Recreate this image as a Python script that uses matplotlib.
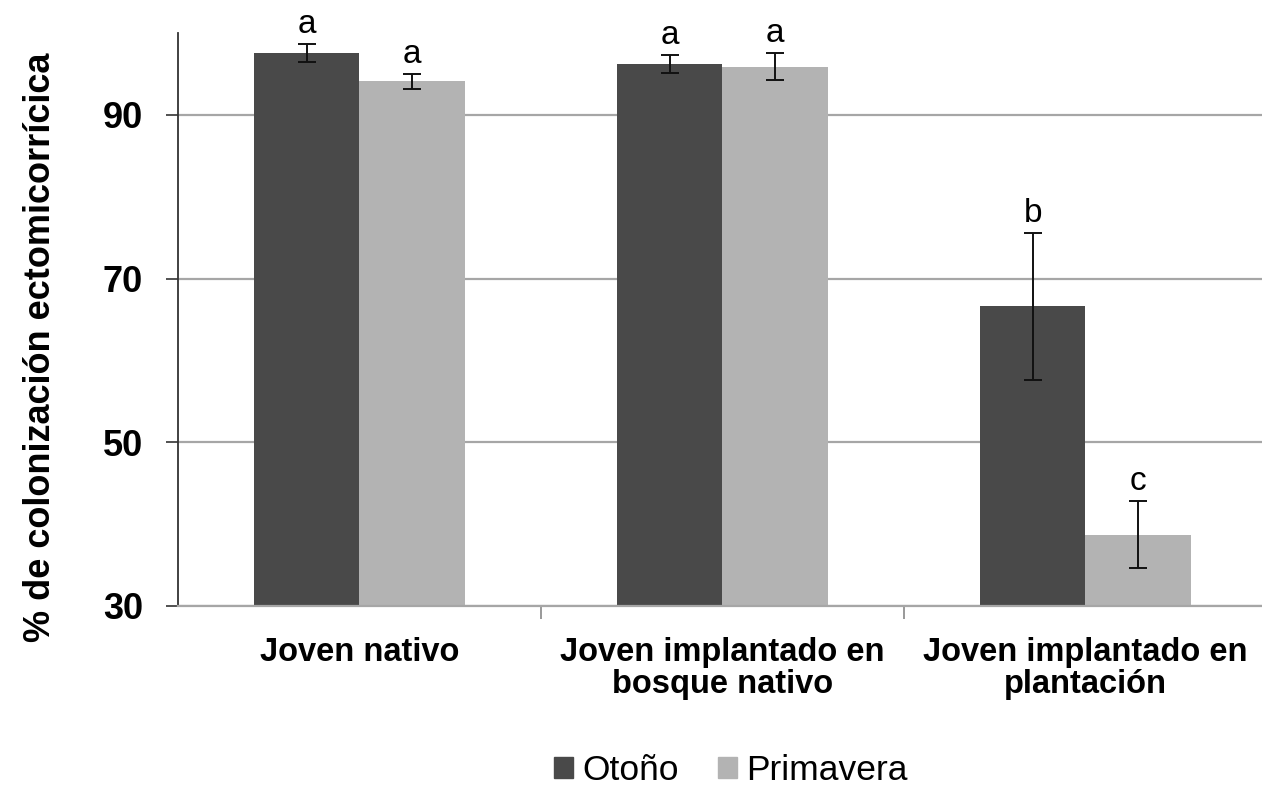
import numpy as np
import matplotlib
matplotlib.use('Agg')
import matplotlib.pyplot as plt
from matplotlib.patches import Patch

plt.rcParams['font.family'] = ['Liberation Sans', 'DejaVu Sans']

# datos
grupos = ['Joven nativo', 'Joven implantado en\nbosque nativo',
          'Joven implantado en\nplantación']
otono = [97.6, 96.2, 66.6]
otono_err = [1.1, 1.1, 9.0]
primavera = [94.1, 95.9, 38.7]
primavera_err = [0.9, 1.6, 4.1]
letras_otono = ['a', 'a', 'b']
letras_primavera = ['a', 'a', 'c']
y_ticks = [30, 50, 70, 90]

col_oto = '#494949'
col_pri = '#b3b3b3'
grid_col = '#a6a6a6'

fig = plt.figure(figsize=(12.62, 7.94), dpi=100)
ax = fig.add_axes([0.141, 0.2368, 0.8629, 0.7216])

x = np.arange(len(grupos))
w = 0.29

ax.bar(x - w/2, otono, w, color=col_oto, zorder=2)
ax.bar(x + w/2, primavera, w, color=col_pri, zorder=2)
ax.errorbar(x - w/2, otono, yerr=otono_err, fmt='none', ecolor='#111111',
            elinewidth=1.4, capsize=6.5, capthick=1.4, zorder=3)
ax.errorbar(x + w/2, primavera, yerr=primavera_err, fmt='none', ecolor='#111111',
            elinewidth=1.4, capsize=6.5, capthick=1.4, zorder=3)

# letras de significancia
for i in range(len(grupos)):
    ax.annotate(letras_otono[i], (x[i] - w/2, otono[i] + otono_err[i]),
                xytext=(0, 3), textcoords='offset points',
                ha='center', va='bottom', fontsize=24)
    ax.annotate(letras_primavera[i], (x[i] + w/2, primavera[i] + primavera_err[i]),
                xytext=(0, 3), textcoords='offset points',
                ha='center', va='bottom', fontsize=24)

ax.set_ylim(30, 100)
ax.set_xlim(-0.5, 2.5)
ax.set_yticks(y_ticks)
ax.set_yticklabels([str(v) for v in y_ticks], fontsize=26, fontweight='bold')
ax.tick_params(axis='y', length=9, width=1.2, color='#333333', pad=16)
ax.yaxis.grid(True, color=grid_col, linewidth=1.6, zorder=0)
ax.set_axisbelow(True)

ax.set_xticks(x)
ax.set_xticklabels(grupos, fontsize=23.5, fontweight='bold', linespacing=1.05)
ax.tick_params(axis='x', length=0, pad=22)
ax.set_xticks([0.5, 1.5], minor=True)
ax.tick_params(axis='x', which='minor', length=9, width=1.2, color='#888888')

for s in ['top', 'right']:
    ax.spines[s].set_visible(False)
ax.spines['left'].set_color('#333333')
ax.spines['left'].set_linewidth(1.3)
ax.spines['bottom'].set_color(grid_col)
ax.spines['bottom'].set_linewidth(1.6)

fig.text(0.032, 0.562, '% de colonización ectomicorrícica', rotation=90,
         ha='center', va='center', fontsize=26, fontweight='bold')

handles = [Patch(color=col_oto, label='Otoño'), Patch(color=col_pri, label='Primavera')]
fig.legend(handles=handles, loc='lower center', bbox_to_anchor=(0.579, 0.0), ncol=2,
           frameon=False, fontsize=25.5, handlelength=0.55, handleheight=0.55,
           handletextpad=0.25, columnspacing=1.1, borderpad=0.1,
           borderaxespad=0.1)

plt.savefig('out.png', dpi=100)
